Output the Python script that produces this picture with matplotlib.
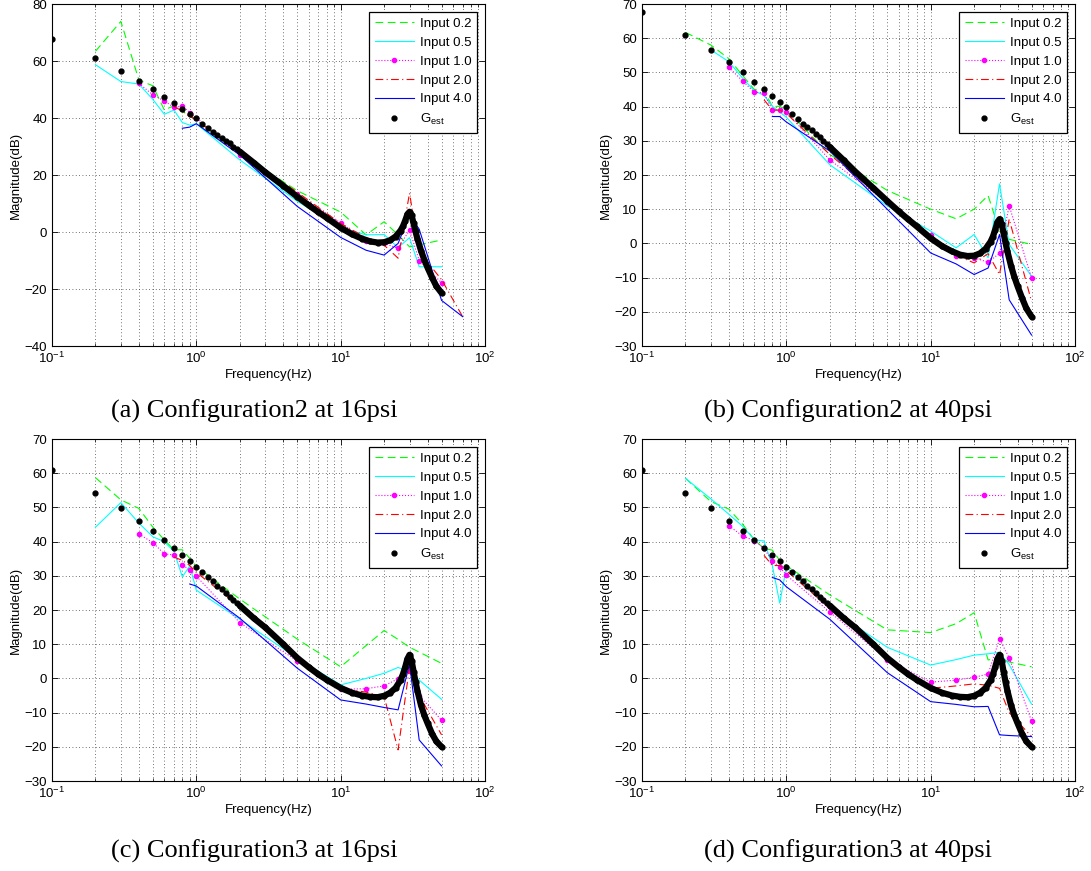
import numpy as np
import matplotlib.pyplot as plt

plt.rcParams['font.family'] = ['Liberation Sans', 'DejaVu Sans']
plt.rcParams['mathtext.default'] = 'regular'
plt.rcParams['font.size'] = 9.5

nan = np.nan

# measurement frequencies (Hz) shared by the input-amplitude series
freq = [0.2, 0.3, 0.4, 0.5, 0.6, 0.7, 0.8, 0.9, 1, 2, 5, 10, 15, 20, 25, 30, 35, 50, 70]

# (a) Configuration2 at 16psi
a_in02 = [63.4, 73.9, 53.3, 51.3, 42.8, 44.3, 42.3, 40.8, 39.3, 27.5, 14.5, 7.0, -1.0, 3.6, -1.0, -5.2, -4.5, -2.8, nan]
a_in05 = [58.7, 52.8, 51.9, 46.5, 41.3, 42.8, 38.4, 37.5, 38.0, 25.3, 10.8, 1.5, -1.0, -0.9, -5.5, -2.0, -12.2, -12.2, nan]
a_in10 = [nan, nan, 52.2, 48.1, 46.0, 43.7, 44.2, 41.9, 40.1, 27.0, 13.3, 3.2, -3.0, -4.0, -5.7, 0.7, -10.0, -17.8, nan]
a_in20 = [nan, nan, nan, nan, nan, 44.0, 42.5, 40.5, 39.5, 27.5, 14.0, 3.0, -2.0, -4.6, -9.2, 13.6, -7.0, -16.7, -29.7]
a_in40 = [nan, nan, nan, nan, nan, nan, 36.4, 36.8, 38.0, 27.0, 9.0, -1.9, -6.4, -8.1, -4.0, 6.0, 1.0, -24.0, -29.7]

# (b) Configuration2 at 40psi
b_in02 = [61.7, 58.0, 54.0, 49.0, 45.0, 44.8, 40.0, 40.1, 38.9, 26.0, 15.5, 10.0, 7.2, 10.0, 14.0, 3.6, 1.2, -0.3, nan]
b_in05 = [nan, 56.6, 53.1, 48.2, 44.6, 43.3, 40.1, 38.4, 36.9, 23.0, 11.0, 3.6, -1.3, 2.6, -4.2, 17.4, -0.3, -9.6, nan]
b_in10 = [nan, nan, 51.5, 47.4, 44.2, 44.0, 38.9, 38.9, 38.5, 24.4, 12.0, 2.6, -3.7, -4.2, -5.5, -2.9, 11.0, -10.1, nan]
b_in20 = [nan, nan, nan, nan, nan, 42.0, 39.0, 39.0, 38.0, 26.0, 12.0, 2.0, -3.5, -5.7, -3.0, -9.1, 7.1, -17.0, nan]
b_in40 = [nan, nan, nan, nan, nan, nan, 37.1, 37.1, 35.5, 27.0, 10.0, -2.8, -6.0, -9.1, -7.2, 2.6, -16.5, -26.8, nan]

# (c) Configuration3 at 16psi
c_in02 = [58.7, 52.2, 49.7, 44.2, 40.5, 37.6, 37.6, 35.1, 32.7, 23.2, 11.5, 3.4, 9.6, 14.0, 11.4, 9.1, 7.7, 4.4, nan]
c_in05 = [44.2, 51.4, 45.4, 41.4, 40.0, 37.1, 29.7, 32.9, 25.8, 17.3, 5.9, -1.9, 0.0, 1.5, 3.2, 2.0, -0.5, -6.1, nan]
c_in10 = [nan, nan, 42.2, 39.7, 36.4, 36.1, 33.2, 31.7, 29.9, 16.3, 5.1, -3.2, -3.0, -2.2, -0.1, 2.3, -5.0, -12.2, nan]
c_in20 = [nan, nan, nan, nan, nan, 35.5, 34.5, 33.0, 31.0, 21.0, 6.0, -3.0, -4.0, -5.3, -20.9, 3.4, -5.0, -16.5, nan]
c_in40 = [nan, nan, nan, nan, nan, nan, nan, 27.6, 27.0, 17.6, 3.0, -6.3, -7.5, -8.5, -9.2, 4.2, -18.0, -25.6, nan]

# (d) Configuration3 at 40psi
d_in02 = [58.5, 51.7, 49.5, 45.0, 40.5, 38.0, 37.5, 34.5, 33.0, 24.4, 14.2, 13.4, 16.0, 19.2, 5.4, 6.0, 4.8, 3.4, nan]
d_in05 = [58.5, 52.5, 48.0, 44.4, 40.5, 40.2, 33.0, 22.0, 32.5, 20.5, 9.1, 3.9, 5.5, 6.8, 7.2, 7.6, 4.0, -7.5, nan]
d_in10 = [nan, nan, 44.6, 41.6, 40.3, 38.0, 34.3, 32.6, 30.2, 19.4, 5.5, -1.1, -0.5, 0.3, 1.3, 11.5, 6.0, -12.5, nan]
d_in20 = [nan, nan, nan, nan, nan, 36.0, 33.0, 33.0, 31.5, 20.5, 6.0, -2.9, -2.2, -1.6, -2.0, -2.9, -10.0, -17.0, nan]
d_in40 = [nan, nan, nan, nan, nan, nan, 29.5, 28.8, 26.8, 17.3, 1.7, -6.8, -7.6, -8.3, -8.2, -16.5, -16.7, -17.0, nan]

# estimated model G_est
gest_freq = [0.1, 0.2, 0.3, 0.4, 0.5, 0.6, 0.7, 0.8, 0.9, 1.0,
             1.1, 1.2, 1.3, 1.4, 1.5, 1.6, 1.7, 1.8, 1.9, 2.0,
             2.5, 3, 4, 5, 6, 7, 8, 10, 12, 14, 16, 18, 20, 22, 24, 26,
             27, 28, 29, 30, 31, 32, 33, 34, 36, 38, 40, 43, 46, 50]
gest_cfg2 = [67.7, 61.0, 56.6, 53.0, 50.1, 47.3, 45.2, 43.2, 41.4, 39.9,
             37.9, 36.5, 35.0, 34.0, 33.1, 32.0, 31.1, 30.0, 29.1, 28.2,
             24.3, 21.0, 16.2, 12.4, 9.4, 7.0, 5.0, 1.5, -0.8, -2.3, -3.3, -3.7, -3.6, -2.9, -1.6, 0.5,
             2.0, 4.0, 6.2, 7.1, 5.8, 3.0, 0.2, -2.3, -6.5, -9.8, -12.5, -16.0, -19.0, -21.4]
gest_cfg3 = [61.0, 54.3, 49.8, 46.1, 43.2, 40.5, 38.2, 36.1, 34.3, 32.7,
             31.1, 29.7, 28.6, 27.0, 26.1, 24.9, 23.9, 22.9, 22.1, 21.3,
             17.6, 14.9, 10.0, 6.0, 3.3, 1.2, -0.4, -2.8, -4.2, -5.0, -5.4, -5.5, -5.1, -4.2, -2.8, -0.5,
             1.2, 3.3, 5.7, 6.9, 5.2, 2.0, -1.0, -3.6, -7.8, -10.8, -13.1, -16.2, -18.4, -20.0]

labels = ['Input 0.2', 'Input 0.5', 'Input 1.0', 'Input 2.0', 'Input 4.0']
captions = ['(a) Configuration2 at 16psi', '(b) Configuration2 at 40psi',
            '(c) Configuration3 at 16psi', '(d) Configuration3 at 40psi']

panels = [
    ([a_in02, a_in05, a_in10, a_in20, a_in40], gest_cfg2, (-40, 80), 20),
    ([b_in02, b_in05, b_in10, b_in20, b_in40], gest_cfg2, (-30, 70), 10),
    ([c_in02, c_in05, c_in10, c_in20, c_in40], gest_cfg3, (-30, 70), 10),
    ([d_in02, d_in05, d_in10, d_in20, d_in40], gest_cfg3, (-30, 70), 10),
]

W, H = 1091, 871
fig = plt.figure(figsize=(W / 100, H / 100), dpi=100)
ax_rects = [(52, 4), (642, 4), (52, 439), (642, 439)]
ax_w, ax_h = 433, 342
cap_pos = [(254, 418), (848, 418), (254, 858), (848, 858)]

for k, (series, gest, ylim, ystep) in enumerate(panels):
    x0, y0 = ax_rects[k]
    ax = fig.add_axes([x0 / W, 1 - (y0 + ax_h) / H, ax_w / W, ax_h / H])

    s02, s05, s10, s20, s40 = series
    ax.plot(freq, s02, color='#00ff00', ls=(0, (7, 4)), lw=0.8, label=labels[0])
    ax.plot(freq, s05, color='#00ffff', ls='-', lw=0.8, label=labels[1])
    ax.plot(freq, s10, color='#ff00ff', ls=':', lw=0.8, marker='.', ms=6, label=labels[2])
    ax.plot(freq, s20, color='#ff0000', ls=(0, (7, 3, 1, 3)), lw=0.8, label=labels[3])
    ax.plot(freq, s40, color='#0000ff', ls='-', lw=0.8, label=labels[4])

    # dense part of G_est merges into a thick line
    i2 = gest_freq.index(2.0)
    ax.plot(gest_freq[i2:], gest[i2:], color='k', lw=4.5, solid_capstyle='round')
    ax.plot(gest_freq, gest, 'k.', ms=7, label='G$_{est}$')

    ax.set_xscale('log')
    ax.set_xlim(0.1, 100)
    ax.set_ylim(*ylim)
    ax.set_yticks(np.arange(ylim[0], ylim[1] + 1, ystep))
    ax.grid(True, which='both', axis='x', color='#444444', ls=(0, (1, 3)), lw=0.6)
    ax.grid(True, which='major', axis='y', color='#444444', ls=(0, (1, 3)), lw=0.6)
    ax.tick_params(which='both', direction='in', top=True, right=True, labelsize=9.5)
    ax.tick_params(which='major', length=4, width=0.6)
    ax.tick_params(which='minor', length=2, width=0.5)
    for sp in ax.spines.values():
        sp.set_linewidth(0.8)
    ax.set_xlabel('Frequency(Hz)', fontsize=9.5, labelpad=2)
    ax.set_ylabel('Magnitude(dB)', fontsize=9.5, labelpad=2)

    leg = ax.legend(loc='upper right', fontsize=9.5, fancybox=False, edgecolor='k',
                    framealpha=1, handlelength=3.0, handletextpad=0.4,
                    labelspacing=0.5, borderpad=0.45, borderaxespad=0.6)
    leg.get_frame().set_linewidth(0.9)

    cx, cy = cap_pos[k]
    fig.text(cx / W, 1 - cy / H, captions[k], ha='center', va='baseline',
             fontsize=19, family=['Liberation Serif', 'DejaVu Serif'])

fig.savefig('out.png', dpi=100)
